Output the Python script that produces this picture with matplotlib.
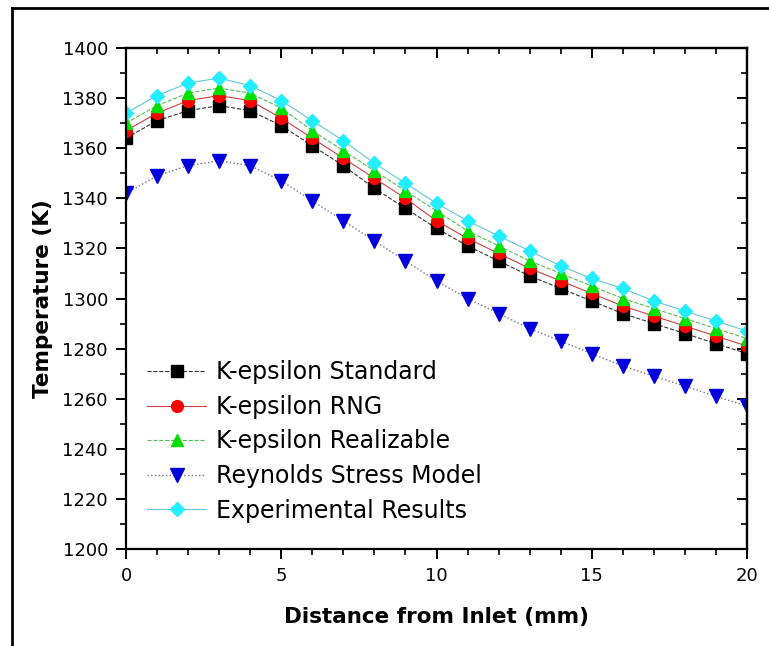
import numpy as np
import matplotlib
matplotlib.use('Agg')
import matplotlib.pyplot as plt
from matplotlib.lines import Line2D
from matplotlib.ticker import MultipleLocator

# distance from inlet (mm)
distance = list(range(0, 21))

# temperature (K) per turbulence model
k_eps_standard = [1364, 1371, 1375, 1377, 1375, 1369, 1361, 1353, 1344, 1336, 1328,
                  1321, 1315, 1309, 1304, 1299, 1294, 1290, 1286, 1282, 1278]
k_eps_rng = [1367, 1374, 1379, 1381, 1379, 1372, 1364, 1356, 1348, 1340, 1331,
             1324, 1318, 1312, 1307, 1302, 1297, 1293, 1289, 1285, 1281]
k_eps_realizable = [1370, 1377, 1382, 1384, 1382, 1376, 1367, 1359, 1351, 1343, 1335,
                    1327, 1321, 1315, 1310, 1305, 1300, 1296, 1292, 1288, 1284]
reynolds_stress = [1342, 1349, 1353, 1355, 1353, 1347, 1339, 1331, 1323, 1315, 1307,
                   1300, 1294, 1288, 1283, 1278, 1273, 1269, 1265, 1261, 1257]
experimental = [1374, 1381, 1386, 1388, 1385, 1379, 1371, 1363, 1354, 1346, 1338,
                1331, 1325, 1319, 1313, 1308, 1304, 1299, 1295, 1291, 1287]

fig = plt.figure(figsize=(7.69, 6.46), dpi=100)
ax = fig.add_axes([126/769, 97/646, 621/769, 501/646])

lw = 0.8
ax.plot(distance, k_eps_standard, color='#333333', ls='--', lw=lw,
        marker='s', ms=8.5, mfc='black', mec='black', label='K-epsilon Standard')
ax.plot(distance, k_eps_rng, color='#d04040', ls='-', lw=lw,
        marker='o', ms=8.5, mfc='red', mec='red', label='K-epsilon RNG')
ax.plot(distance, k_eps_realizable, color='#50c050', ls='--', lw=lw,
        marker='^', ms=9, mfc='#00e000', mec='#00e000', label='K-epsilon Realizable')
ax.plot(distance, reynolds_stress, color='#707090', ls=':', lw=1.0,
        marker='v', ms=9.5, mfc='#0000dd', mec='#0000dd', label='Reynolds Stress Model')
ax.plot(distance, experimental, color='#60c8d8', ls='-', lw=lw,
        marker='D', ms=7.5, mfc='#22eeff', mec='#22eeff', label='Experimental Results')

ax.set_xlim(0, 20)
ax.set_ylim(1200, 1400)
ax.xaxis.set_major_locator(MultipleLocator(5))
ax.xaxis.set_minor_locator(MultipleLocator(1))
ax.yaxis.set_major_locator(MultipleLocator(20))
ax.yaxis.set_minor_locator(MultipleLocator(10))

for s in ax.spines.values():
    s.set_linewidth(1.6)
ax.tick_params(which='major', direction='out', length=7, width=1.4, labelsize=13, pad=6)
ax.tick_params(which='minor', direction='out', length=4, width=1.2)

# mirrored ticks on top and right point inward
top = ax.secondary_xaxis('top')
top.xaxis.set_major_locator(MultipleLocator(5))
top.xaxis.set_minor_locator(MultipleLocator(1))
top.tick_params(which='major', direction='in', length=7, width=1.4, labeltop=False)
top.tick_params(which='minor', direction='in', length=4, width=1.2)
right = ax.secondary_yaxis('right')
right.yaxis.set_major_locator(MultipleLocator(20))
right.yaxis.set_minor_locator(MultipleLocator(10))
right.tick_params(which='major', direction='in', length=7, width=1.4, labelright=False)
right.tick_params(which='minor', direction='in', length=4, width=1.2)
for sec in (top, right):
    for s in sec.spines.values():
        s.set_linewidth(1.6)

ax.set_xlabel('Distance from Inlet (mm)', fontsize=15.5, fontweight='bold', labelpad=16)
ax.set_ylabel('Temperature (K)', fontsize=15.5, fontweight='bold', labelpad=7)

ax.legend(loc='lower left', bbox_to_anchor=(0.0, 0.01), frameon=False,
          fontsize=17, handlelength=2.5, handletextpad=0.4, labelspacing=0.45,
          borderaxespad=0.5)

# outer frame around the figure
fig.add_artist(Line2D([12/769, 12/769], [0, 1 - 8/646], color='black', lw=2,
                      transform=fig.transFigure))
fig.add_artist(Line2D([12/769, 1], [1 - 8/646, 1 - 8/646], color='black', lw=2,
                      transform=fig.transFigure))

fig.savefig('out.png', dpi=100)
